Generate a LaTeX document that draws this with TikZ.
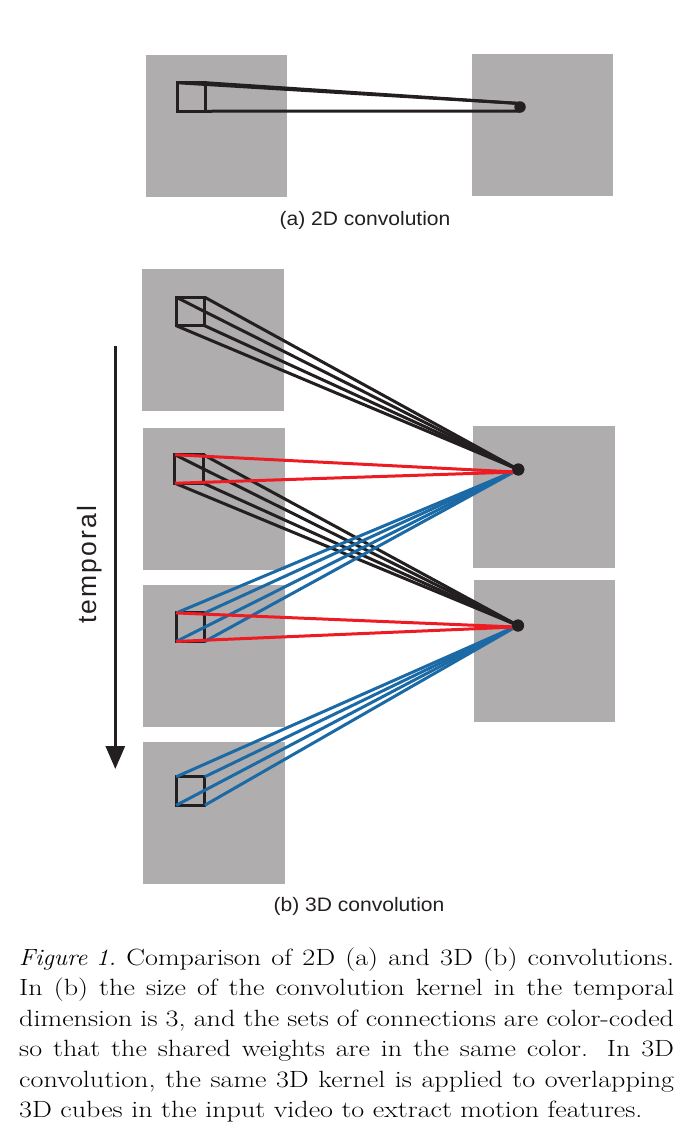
\documentclass[tikz,border=0pt]{standalone}
\usepackage{graphicx}
\usepackage{fontspec}
\newfontfamily\labelfont{Liberation Sans}
\usetikzlibrary{arrows.meta}
\definecolor{panelgrey}{HTML}{AFADAE}
\definecolor{inkblack}{HTML}{231F20}
\definecolor{inkred}{HTML}{ED1C24}
\definecolor{inkblue}{HTML}{1B6AA5}
\tikzset{
  panel/.style={fill=panelgrey,draw=none,inner sep=0pt,outer sep=0pt,minimum width=141.5pt,minimum height=142pt},
  kernel/.style={draw=inkblack,line width=3pt,inner sep=0pt,outer sep=0pt,minimum width=28.5pt,minimum height=28.5pt},
  dot/.style={circle,fill=inkblack,inner sep=0pt,outer sep=0pt,minimum size=12pt},
  smalldot/.style={circle,fill=inkblack,inner sep=0pt,outer sep=0pt,minimum size=11.5pt},
  blackline/.style={draw=inkblack,line width=3pt},
  redline/.style={draw=inkred,line width=3pt},
  blueline/.style={draw=inkblue,line width=3pt},
  sublabel/.style={font=\labelfont\fontsize{19.5}{22}\selectfont,text=inkblack,inner sep=0pt,xscale=1.08,anchor=base},
}
\begin{document}
\begin{tikzpicture}[x=1pt,y=-1pt]
\useasboundingbox (0,0) rectangle (696,1144);
% panels
\node[panel] (aL) at (216.5,126) {};
\node[panel] (aR) at (542.5,125) {};
\node[panel] (b1) at (213.2,340) {};
\node[panel] (b2) at (214,499) {};
\node[panel] (b3) at (214,655.5) {};
\node[panel] (b4) at (214,813) {};
\node[panel] (r1) at (543.8,497) {};
\node[panel] (r2) at (544.3,651) {};
% 2D kernel
\node[kernel] (ka) at (191.5,97) {};
\coordinate (daT) at (520,103.5);
\coordinate (daB) at (520,111);
\draw[blackline] (ka.north west) -- (daT);
\draw[blackline] (ka.north east) -- (daT);
\draw[blackline] (ka.south east) -- (daB);
\node[smalldot] (da) at (520,107) {};
% 3D kernels
\node[kernel] (k1) at (190.5,311.5) {};
\node[kernel] (k2) at (189.2,469) {};
\node[kernel] (k3) at (190.5,627.2) {};
\node[kernel] (k4) at (190.5,791) {};
\node[dot] (d1) at (518.3,469.5) {};
\node[dot] (d2) at (518,625.5) {};
\coordinate (d1red) at (516,472);
\coordinate (d2red) at (516,627);
% black connections
\foreach \c in {north west,north east,south west,south east}{
  \draw[blackline] (k1.\c) -- (d1.center);
  \draw[blackline] (k2.\c) -- (d2.center);
}
% blue connections
\foreach \c in {north west,north east,south west,south east}{
  \draw[blueline] (k3.\c) -- (d1.center);
  \draw[blueline] (k4.\c) -- (d2.center);
}
% red connections
\foreach \c in {north west,south west}{
  \draw[redline] (k2.\c) -- (d1red);
  \draw[redline] (k3.\c) -- (d2red);
}
\node[dot] (d1top) at (d1) {};
\node[dot] (d2top) at (d2) {};
% temporal arrow
\coordinate (tStart) at (115.3,346);
\coordinate (tEnd) at (115.3,769);
\draw[draw=inkblack,line width=3pt,-{Triangle[length=23pt,width=19pt]}] (tStart) -- (tEnd);
\node[rotate=90,font=\labelfont\fontsize{26.5}{30}\selectfont,inner sep=0pt,text=inkblack] (temporal) at (90,565) {\addfontfeatures{LetterSpace=8}temporal};
% labels
\node[sublabel] (la) at (365,225) {(a) 2D convolution};
\node[sublabel] (lb) at (359,911) {(b) 3D convolution};
% caption
\node[anchor=north west,inner sep=0pt,xscale=1.195,text width=548pt,align=justify,font=\fontsize{23.5}{30.5}\selectfont] (cap) at (19,947.5) {\emergencystretch=3em\hbadness=10000\hfuzz=20pt \scalebox{0.89}[1]{\textit{Figure 1.}} Comparison of 2D (a) and 3D (b) convolutions.\linebreak
In (b) the size of the convolution kernel in the temporal\linebreak
dimension is 3, and the sets of connections are color-coded\linebreak
so that the shared weights are in the same color.  In 3D\linebreak
convolution, the same 3D kernel is applied to overlapping\linebreak
3D cubes in the input video to extract motion features.};
\end{tikzpicture}
\end{document}
